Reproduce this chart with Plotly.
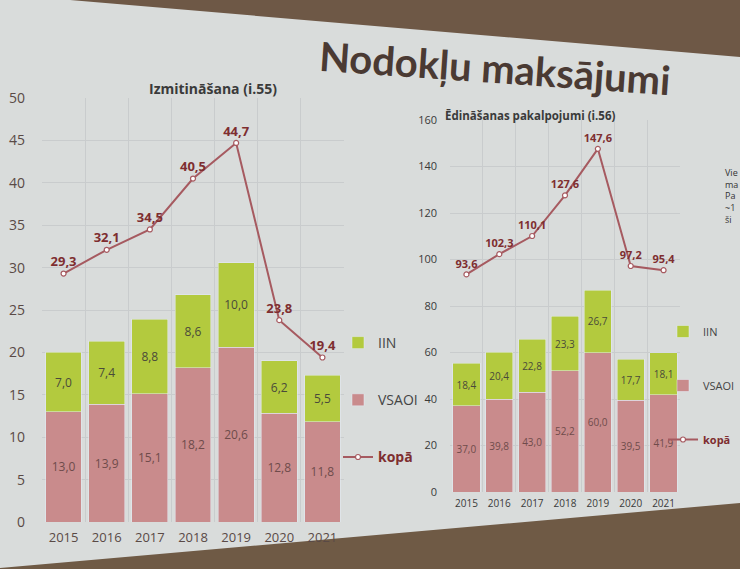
import plotly.graph_objects as go

years = ["2015", "2016", "2017", "2018", "2019", "2020", "2021"]

# Izmitināšana (i.55)
acc_vsaoi = [13.0, 13.9, 15.1, 18.2, 20.6, 12.8, 11.8]
acc_iin = [7.0, 7.4, 8.8, 8.6, 10.0, 6.2, 5.5]
acc_total = [29.3, 32.1, 34.5, 40.5, 44.7, 23.8, 19.4]

# Ēdināšanas pakalpojumi (i.56)
food_vsaoi = [37.0, 39.8, 43.0, 52.2, 60.0, 39.5, 41.9]
food_iin = [18.4, 20.4, 22.8, 23.3, 26.7, 17.7, 18.1]
food_total = [93.6, 102.3, 110.1, 127.6, 147.6, 97.2, 95.4]

VS_COL = "#c98b8c"
IIN_COL = "#b3ca3e"
LINE_COL = "#a65a60"
LBL_COL = "#7e2e30"
BAR_TXT = "#6f4b4b"
FONT = "Open Sans"
W, H = 740, 569


def fmt(v):
    return f"{v:.1f}".replace(".", ",")


fig = go.Figure()


def add_chart(xa, ya, legend, vs, iin, tot, fs):
    fig.add_trace(go.Bar(
        x=years, y=vs, name="VSAOI", marker_color=VS_COL, xaxis=xa, yaxis=ya,
        text=[fmt(v) for v in vs], textposition="inside", insidetextanchor="middle",
        textfont=dict(color=BAR_TXT, size=fs, family=FONT), legend=legend,
        legendgroup=legend + "vs", legendrank=2))
    fig.add_trace(go.Bar(
        x=years, y=iin, name="IIN", marker_color=IIN_COL, xaxis=xa, yaxis=ya,
        text=[fmt(v) for v in iin], textposition="inside", insidetextanchor="middle",
        textfont=dict(color="#4a4a3a", size=fs, family=FONT), legend=legend,
        legendgroup=legend + "iin", legendrank=1))
    fig.add_trace(go.Scatter(
        x=years, y=tot, name="<b><span style='color:%s'>kopā</span></b>" % LBL_COL,
        mode="lines+markers+text", xaxis=xa, yaxis=ya,
        line=dict(color=LINE_COL, width=2),
        marker=dict(symbol="circle", size=5, color="white",
                    line=dict(color=LINE_COL, width=1.2)),
        text=["<b>%s</b>" % fmt(v) for v in tot], textposition="top center",
        textfont=dict(color=LBL_COL, size=fs + 1, family=FONT), legend=legend,
        legendgroup=legend + "tot", legendrank=3))


add_chart("x", "y", "legend", acc_vsaoi, acc_iin, acc_total, 12)
add_chart("x2", "y2", "legend2", food_vsaoi, food_iin, food_total, 10)


def px_x(p):
    return p / W


def px_y(p):
    return 1 - p / H


base = dict(showline=False, zeroline=False, gridcolor="#c9cccd", automargin=False)

fig.update_layout(
    width=W, height=H,
    margin=dict(l=0, r=0, t=0, b=0),
    paper_bgcolor="#d9dcdb", plot_bgcolor="rgba(0,0,0,0)",
    barmode="stack", bargap=0.17,
    font=dict(family=FONT, color="#444444"),
    xaxis=dict(domain=[px_x(42), px_x(344)], anchor="y", tickson="boundaries",
               showgrid=True, ticks="", tickangle=0, ticklabelstandoff=6,
               tickfont=dict(family=FONT, size=13, color="#5a4a46"), **base),
    yaxis=dict(domain=[px_y(522), px_y(98)], anchor="x", range=[0, 50], dtick=5,
               showgrid=True, ticklabelstandoff=16,
               tickfont=dict(family=FONT, size=14, color="#5a4a46"), **base),
    xaxis2=dict(domain=[px_x(450), px_x(680)], anchor="y2", tickson="boundaries",
                showgrid=True, ticks="", tickangle=0, ticklabelstandoff=4,
                tickfont=dict(family=FONT, size=10, color="#3a3a3a"), **base),
    yaxis2=dict(domain=[px_y(492), px_y(120)], anchor="x2", range=[0, 160], dtick=20,
                showgrid=True, ticklabelstandoff=12,
                tickfont=dict(family=FONT, size=11, color="#3a3a3a"), **base),
    legend=dict(x=px_x(338), y=px_y(327), xanchor="left", yanchor="top",
                bgcolor="rgba(0,0,0,0)", tracegroupgap=36, traceorder="grouped",
                font=dict(family=FONT, size=14, color="#444444")),
    legend2=dict(x=1.0, y=px_y(317), xanchor="right", yanchor="top",
                 bgcolor="rgba(0,0,0,0)", tracegroupgap=35, traceorder="grouped",
                 font=dict(family=FONT, size=11, color="#444444")),
    shapes=[
        dict(type="path", xref="paper", yref="paper", layer="below", line_width=0,
             fillcolor="#6e5846",
             path="M 0 1 L %f 1 L 1 %f L 1 1 Z" % (px_x(70), px_y(57))),
        dict(type="path", xref="paper", yref="paper", layer="below", line_width=0,
             fillcolor="#6f5a45",
             path="M 0 0 L 0 %f L 1 %f L 1 0 Z" % (px_y(568), px_y(503))),
    ],
    annotations=[
        dict(text="<b>Nodokļu maksājumi</b>", x=px_x(495), y=px_y(68), xref="paper",
             yref="paper", xanchor="center", yanchor="middle", textangle=4,
             showarrow=False, font=dict(family="Lato", size=40, color="#4a3a33")),
        dict(text="<b>Izmitināšana (i.55)</b>", x=px_x(213), y=px_y(88), xref="paper",
             yref="paper", xanchor="center", yanchor="middle", showarrow=False,
             font=dict(family=FONT, size=14, color="#3a3a3a")),
        dict(text="<b>Ēdināšanas pakalpojumi (i.56)</b>", x=px_x(530), y=px_y(116),
             xref="paper", yref="paper", xanchor="center", yanchor="middle",
             showarrow=False, font=dict(family=FONT, size=11.5, color="#3a3a3a")),
        dict(text="Vie<br>ma<br>Pa<br>~1<br>ši", x=px_x(723), y=px_y(164), xref="paper",
             yref="paper", xanchor="left", yanchor="top", showarrow=False, align="left",
             font=dict(family=FONT, size=9, color="#333333")),
    ],
)

fig.write_html("out.html", config={"displayModeBar": False},
               post_script="document.body.style.margin='0';")
